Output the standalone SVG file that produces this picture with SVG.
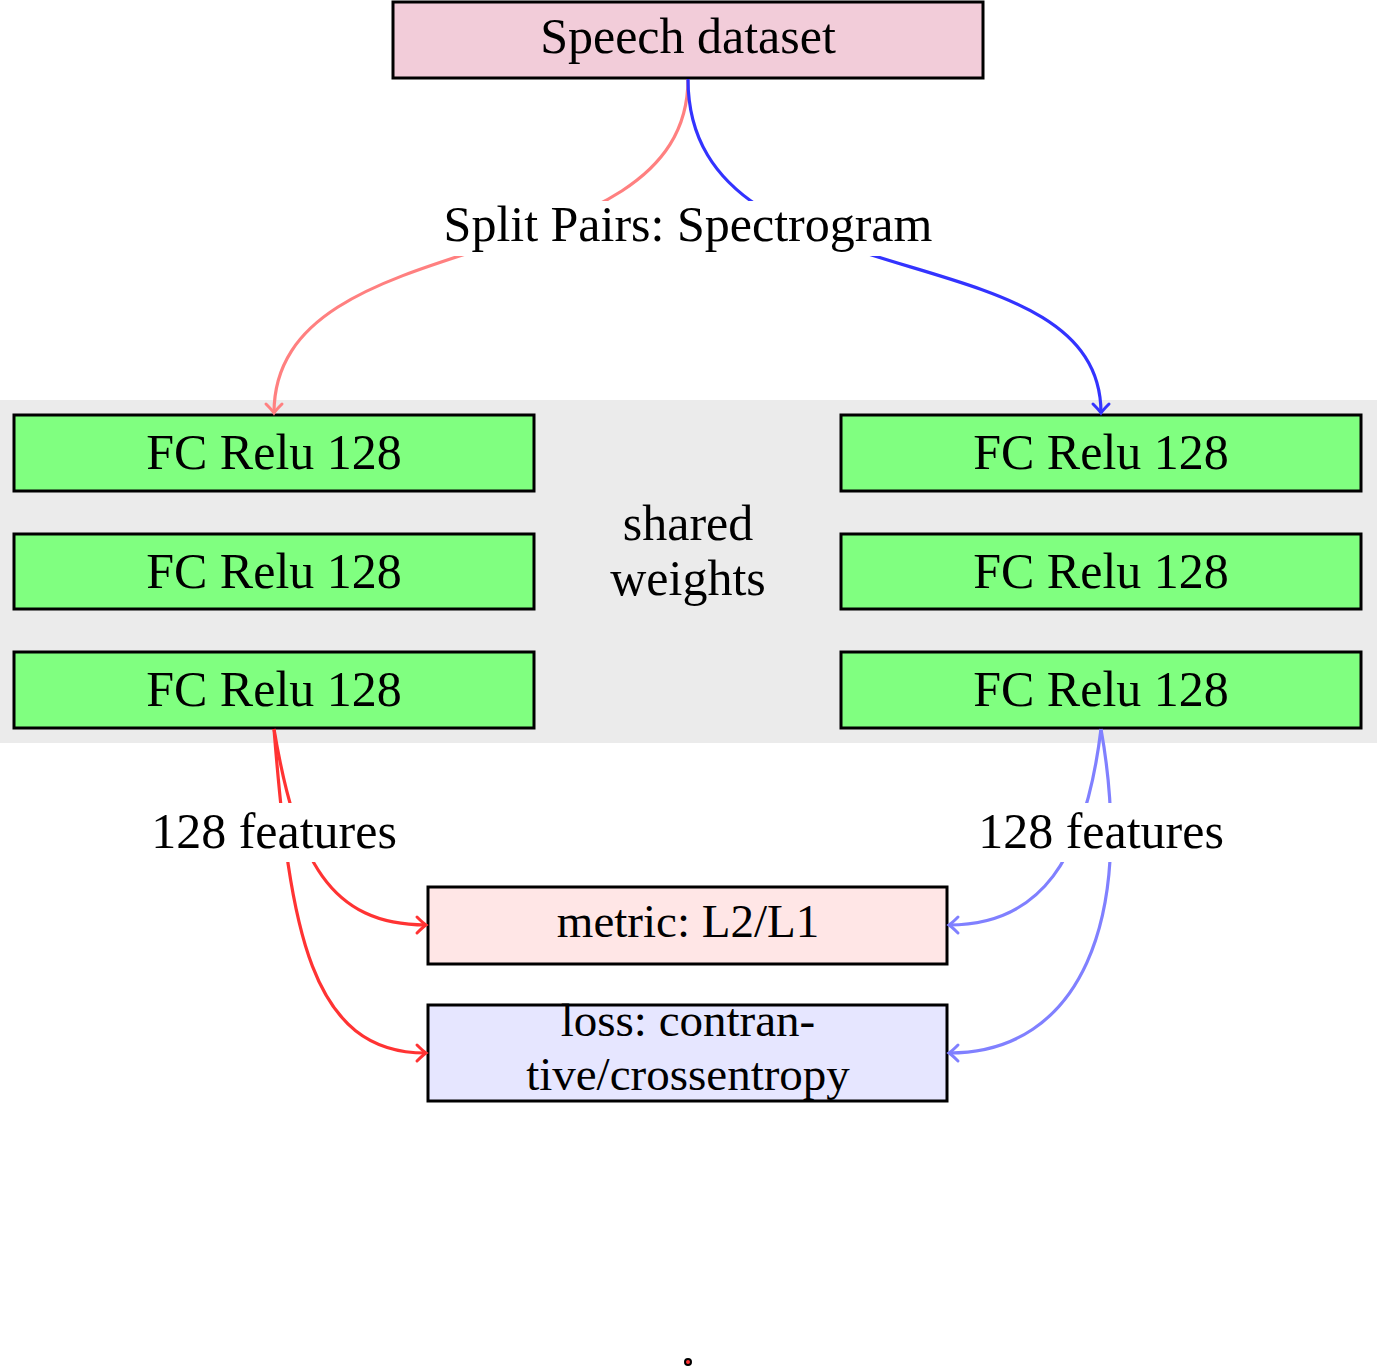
<svg xmlns="http://www.w3.org/2000/svg" width="1379" height="1367" viewBox="0 0 1379 1367">
<style>
text{font-family:"Liberation Serif","DejaVu Serif",serif;font-size:50px;fill:#000;text-anchor:middle}
.box{stroke:#000;stroke-width:3}
.fc{fill:#80ff80}
.c{fill:none;stroke-width:3.2}
.lbl{fill:#fff}
.sm{font-size:47px}
</style>
<defs>
<marker id="aPink" markerUnits="userSpaceOnUse" markerWidth="20" markerHeight="20" refX="0" refY="0" viewBox="-12 -10 14 20" orient="auto" overflow="visible"><path d="M-9,-8 Q-3,-2 0,0 Q-3,2 -9,8" fill="none" stroke="#ff8080" stroke-width="3" stroke-linecap="round"/></marker>
<marker id="aBlue" markerUnits="userSpaceOnUse" markerWidth="20" markerHeight="20" refX="0" refY="0" viewBox="-12 -10 14 20" orient="auto" overflow="visible"><path d="M-9,-8 Q-3,-2 0,0 Q-3,2 -9,8" fill="none" stroke="#3333ff" stroke-width="3" stroke-linecap="round"/></marker>
<marker id="aRed" markerUnits="userSpaceOnUse" markerWidth="20" markerHeight="20" refX="0" refY="0" viewBox="-12 -10 14 20" orient="auto" overflow="visible"><path d="M-9,-8 Q-3,-2 0,0 Q-3,2 -9,8" fill="none" stroke="#ff3333" stroke-width="3" stroke-linecap="round"/></marker>
<marker id="aLBlue" markerUnits="userSpaceOnUse" markerWidth="20" markerHeight="20" refX="0" refY="0" viewBox="-12 -10 14 20" orient="auto" overflow="visible"><path d="M-9,-8 Q-3,-2 0,0 Q-3,2 -9,8" fill="none" stroke="#8080ff" stroke-width="3" stroke-linecap="round"/></marker>
</defs>
<rect width="1379" height="1367" fill="#fff"/>
<g id="shared-weights">
<rect x="0" y="400" width="1377" height="343" fill="#ebebeb"/>
<text x="688" y="540">shared</text>
<text x="688" y="595">weights</text>
</g>
<g id="speech-dataset">
<rect class="box" x="393" y="2" width="590" height="76" fill="#f2ccd9"/>
<text x="688" y="53">Speech dataset</text>
</g>
<g id="left-fc1"><rect class="box fc" x="14" y="415" width="520" height="76"/><text x="274" y="469">FC Relu 128</text></g>
<g id="left-fc2"><rect class="box fc" x="14" y="534" width="520" height="75"/><text x="274" y="588">FC Relu 128</text></g>
<g id="left-fc3"><rect class="box fc" x="14" y="652" width="520" height="76"/><text x="274" y="706">FC Relu 128</text></g>
<g id="right-fc1"><rect class="box fc" x="841" y="415" width="520" height="76"/><text x="1101" y="469">FC Relu 128</text></g>
<g id="right-fc2"><rect class="box fc" x="841" y="534" width="520" height="75"/><text x="1101" y="588">FC Relu 128</text></g>
<g id="right-fc3"><rect class="box fc" x="841" y="652" width="520" height="76"/><text x="1101" y="706">FC Relu 128</text></g>
<g id="metric"><rect class="box" x="428" y="887" width="519" height="77" fill="#ffe6e6"/><text class="sm" x="688" y="937">metric: L2/L1</text></g>
<g id="loss"><rect class="box" x="428" y="1005" width="519" height="96" fill="#e6e6ff"/><text class="sm" x="688" y="1036">loss: contran-</text><text class="sm" x="688" y="1090">tive/crossentropy</text></g>
<g id="connectors">
<path class="c" stroke="#ff8080" d="M688,79 C688,284 274,216 274,413" marker-end="url(#aPink)"/>
<path class="c" stroke="#3333ff" d="M688,79 C688,310 1101,225 1101,413" marker-end="url(#aBlue)"/>
<path class="c" stroke="#ff3333" d="M274,729 C296,860 330,925 426,925" marker-end="url(#aRed)"/>
<path class="c" stroke="#ff3333" d="M274,729 C290,930 310,1053 426,1053" marker-end="url(#aRed)"/>
<path class="c" stroke="#8080ff" d="M1101,729 C1085,860 1040,925 949,925" marker-end="url(#aLBlue)"/>
<path class="c" stroke="#8080ff" d="M1101,729 C1135,920 1080,1053 949,1053" marker-end="url(#aLBlue)"/>
</g>
<g id="label-split">
<rect class="lbl" x="430" y="201" width="515" height="55"/>
<text x="688" y="241">Split Pairs: Spectrogram</text>
</g>
<g id="label-left-features">
<rect class="lbl" x="150" y="803" width="248" height="59"/>
<text x="274" y="848">128 features</text>
</g>
<g id="label-right-features">
<rect class="lbl" x="977" y="803" width="248" height="59"/>
<text x="1101" y="848">128 features</text>
</g>
<g id="dot"><circle cx="688" cy="1362" r="3" fill="#ff3333" stroke="#000" stroke-width="2"/></g>
</svg>
